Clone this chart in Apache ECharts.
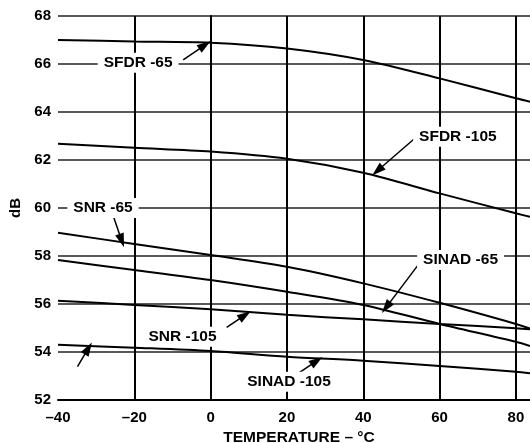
<!DOCTYPE html>
<html>
<head>
<meta charset="utf-8">
<script src="https://cdn.jsdelivr.net/npm/echarts@6/dist/echarts.min.js"></script>
<style>
    html, body { margin: 0; padding: 0; background: #fff; }
    #chart { width: 530px; height: 443px; }
</style>
</head>
<body>
<div id="chart"></div>
<script>
// temperature points (last one is where the plot is cut at the right edge)
const temps = [-40, -20, 0, 20, 40, 60, 80, 83.7];
const sfdr65 = [67.0, 66.94, 66.89, 66.65, 66.17, 65.4, 64.57, 64.43];
const sfdr105 = [62.68, 62.51, 62.35, 62.05, 61.47, 60.61, 59.78, 59.63];
const snr65 = [58.97, 58.5, 58.04, 57.55, 56.86, 56.05, 55.17, 54.98];
const sinad65 = [57.83, 57.42, 57.0, 56.51, 55.96, 55.17, 54.43, 54.25];
const snr105 = [56.14, 55.96, 55.78, 55.55, 55.36, 55.17, 54.99, 54.95];
const sinad105 = [54.30, 54.18, 54.04, 53.80, 53.64, 53.42, 53.18, 53.11];

const xGrid = [-20, 0, 20, 40, 60, 80];

// callout labels: text, temperature, dB
const labels = [
    ['SFDR -65', -19.0, 66.05],
    ['SFDR -105', 64.8, 62.97],
    ['SNR -65', -28.2, 60.0],
    ['SNR -105', -7.36, 54.64],
    ['SINAD -65', 65.5, 57.83],
    ['SINAD -105', 20.55, 52.76]
];
// arrows: from -> to (tip)
const arrows = [
    [[-7.2, 66.17], [-1.5, 66.79]],
    [[54.0, 62.97], [43.7, 61.55]],
    [[-25.6, 59.71], [-23.3, 58.64]],
    [[4.2, 55.03], [9.0, 55.54]],
    [[54.4, 57.63], [46.0, 55.86]],
    [[23.25, 53.14], [27.8, 53.63]],
    [[-34.9, 53.39], [-32.06, 54.15]]
];

const font = 'Liberation Sans, Arial, Helvetica, sans-serif';
const zip = (ys) => temps.map((t, i) => [t, ys[i]]);

function curve(ys) {
    return {
        type: 'line',
        data: zip(ys),
        smooth: 0.3,
        symbol: 'none',
        lineStyle: { color: '#000', width: 2 },
        z: 3
    };
}

const chart = echarts.init(document.getElementById('chart'));
chart.setOption({
    animation: false,
    grid: { left: 58, right: 0, top: 16, bottom: 43, outerBoundsMode: 'none' },
    xAxis: {
        type: 'value',
        min: -40,
        max: 83.7,
        interval: 20,
        name: 'TEMPERATURE – °C',
        nameLocation: 'middle',
        nameGap: 24,
        nameTextStyle: { fontFamily: font, fontWeight: 'bold', fontSize: 15.5, color: '#000', padding: [0, 0, 0, 10] },
        axisLine: { show: true, lineStyle: { color: '#000', width: 2 } },
        axisTick: { show: false },
        splitLine: { show: false },
        axisLabel: {
            fontFamily: font, fontWeight: 'bold', fontSize: 15, color: '#000', margin: 10,
            showMaxLabel: false,
            formatter: v => (v % 20 === 0 ? String(v).replace('-', '–') : '')
        }
    },
    yAxis: {
        type: 'value',
        min: 52,
        max: 68,
        interval: 2,
        name: 'dB',
        nameLocation: 'middle',
        nameGap: 28,
        nameTextStyle: { fontFamily: font, fontWeight: 'bold', fontSize: 15, color: '#000' },
        axisLine: { show: true, lineStyle: { color: '#000', width: 2 } },
        axisTick: { show: false },
        splitLine: { show: true, lineStyle: { color: '#222', width: 1.5 } },
        axisLabel: { fontFamily: font, fontWeight: 'bold', fontSize: 15, color: '#000', margin: 7 }
    },
    series: [
        {
            // vertical grid lines
            type: 'line',
            data: [],
            z: 1,
            markLine: {
                silent: true,
                symbol: 'none',
                label: { show: false },
                lineStyle: { color: '#000', width: 2, type: 'solid' },
                data: xGrid.map(x => ({ xAxis: x }))
            }
        },
        curve(sfdr65),
        curve(sfdr105),
        curve(snr65),
        curve(sinad65),
        curve(snr105),
        curve(sinad105),
        {
            // callouts
            type: 'line',
            data: [],
            z: 5,
            markLine: {
                silent: true,
                symbol: ['none', 'triangle'],
                symbolSize: [9, 14],
                label: { show: false },
                lineStyle: { color: '#000', width: 1.5, type: 'solid' },
                itemStyle: { color: '#000' },
                data: arrows.map(a => [{ coord: a[0] }, { coord: a[1] }])
            },
            markPoint: {
                silent: true,
                symbol: 'rect',
                symbolSize: 1,
                itemStyle: { color: 'rgba(0,0,0,0)' },
                label: {
                    show: true,
                    position: 'inside',
                    formatter: p => p.name,
                    fontFamily: font,
                    fontWeight: 'bold',
                    fontSize: 15.5,
                    color: '#000',
                    backgroundColor: '#fff',
                    padding: [2, 6]
                },
                data: labels.map(l => ({ name: l[0], coord: [l[1], l[2]] }))
            }
        }
    ]
});
</script>
</body>
</html>
